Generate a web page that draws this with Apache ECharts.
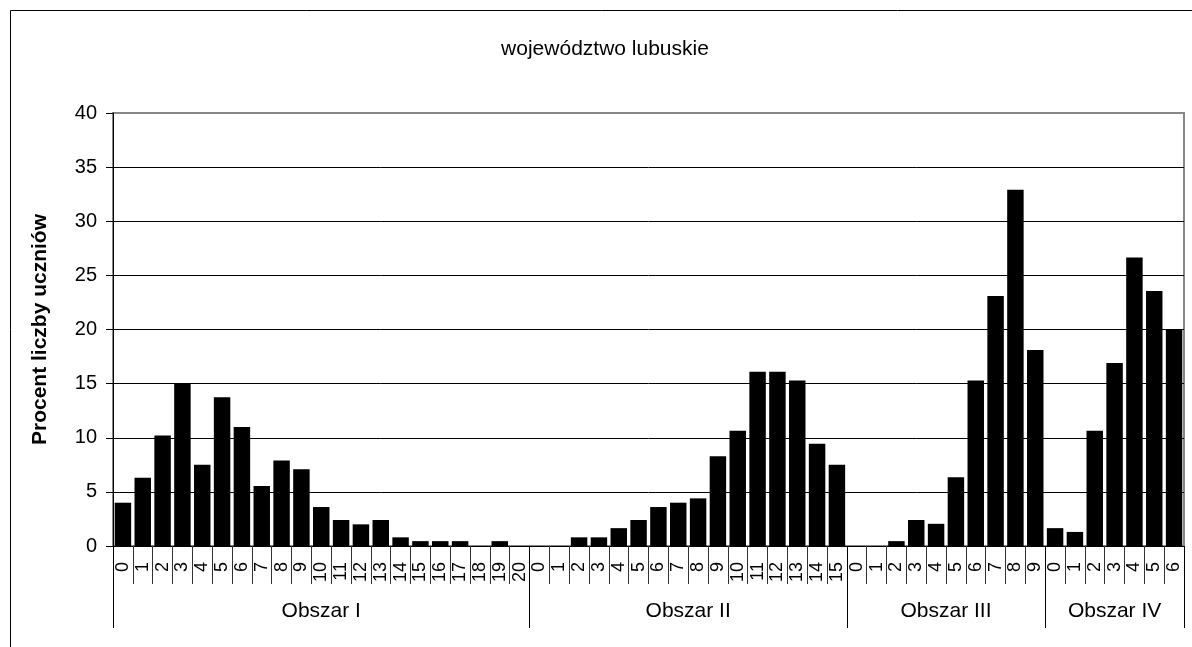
<!DOCTYPE html>
<html>
<head>
<meta charset="utf-8">
<title>województwo lubuskie</title>
<script src="https://cdn.jsdelivr.net/npm/echarts@6/dist/echarts.min.js"></script>
<style>
  html, body { margin: 0; padding: 0; background: #fff; }
  #chart { width: 1192px; height: 647px; }
</style>
</head>
<body>
<div id="chart"></div>
<script>
  // wartości (procent liczby uczniów)
  var groupNames = ['Obszar I', 'Obszar II', 'Obszar III', 'Obszar IV'];
  var obszarI = [4.0, 6.3, 10.2, 15.0, 7.5, 13.75, 11.0, 5.55, 7.9, 7.1, 3.6, 2.4, 2.0, 2.4, 0.8, 0.45, 0.45, 0.45, 0, 0.45, 0];
  var obszarII = [0, 0, 0.8, 0.8, 1.65, 2.4, 3.6, 4.0, 4.4, 8.3, 10.65, 16.1, 16.1, 15.3, 9.45, 7.5];
  var obszarIII = [0, 0, 0.45, 2.4, 2.05, 6.35, 15.3, 23.1, 32.9, 18.1];
  var obszarIV = [1.65, 1.3, 10.65, 16.9, 26.65, 23.55, 20.05];
  var yTicks = [0, 5, 10, 15, 20, 25, 30, 35, 40];

  var groups = [obszarI, obszarII, obszarIII, obszarIV];
  var categories = [];
  var values = [];
  var boundaries = [0];
  var groupCenters = [];
  groups.forEach(function (g) {
    var start = boundaries[boundaries.length - 1];
    g.forEach(function (v, i) {
      categories.push(String(i));
      values.push(v);
    });
    boundaries.push(start + g.length);
    groupCenters.push(start + g.length / 2);
  });

  var font = 'Liberation Sans, Arial, sans-serif';
  var chart = echarts.init(document.getElementById('chart'));
  chart.setOption({
    animation: false,
    title: {
      text: 'województwo lubuskie',
      left: 600,
      top: 34,
      textAlign: 'center',
      textStyle: { fontFamily: font, fontSize: 21, fontWeight: 'normal', color: '#000' }
    },
    graphic: [{
      type: 'rect',
      shape: { x: 10.5, y: 10.5, width: 1400, height: 1000 },
      style: { fill: null, stroke: '#000', lineWidth: 1 },
      silent: true
    }],
    grid: {
      left: 113,
      right: 8,
      top: 113,
      bottom: 101,
      show: true,
      borderColor: '#888',
      borderWidth: 2
    },
    xAxis: [{
      type: 'category',
      data: categories,
      position: 'bottom',
      axisLine: { show: true, lineStyle: { color: '#000', width: 1 } },
      axisTick: { show: true, length: 38, lineStyle: { color: '#333', width: 1 } },
      axisLabel: {
        interval: 0,
        rotate: 90,
        margin: 16,
        fontFamily: font,
        fontSize: 18,
        color: '#000'
      },
      splitLine: { show: false }
    }, {
      type: 'value',
      position: 'bottom',
      min: 0,
      max: categories.length,
      axisLine: { show: false },
      axisTick: {
        show: true,
        length: 82,
        customValues: boundaries,
        lineStyle: { color: '#000', width: 1 }
      },
      axisLabel: {
        customValues: groupCenters,
        margin: 55,
        fontFamily: font,
        fontSize: 21,
        color: '#000',
        formatter: function (v) {
          return groupNames[groupCenters.indexOf(v)] || '';
        }
      },
      splitLine: { show: false }
    }],
    yAxis: {
      type: 'value',
      min: yTicks[0],
      max: yTicks[yTicks.length - 1],
      interval: 5,
      name: 'Procent liczby uczniów',
      nameLocation: 'middle',
      nameRotate: 90,
      nameGap: 62,
      nameTextStyle: { fontFamily: font, fontSize: 21, fontWeight: 'bold', color: '#000' },
      axisLine: { show: true, lineStyle: { color: '#000', width: 1 } },
      axisTick: { show: true, length: 7, lineStyle: { color: '#000' } },
      axisLabel: { margin: 16, fontFamily: font, fontSize: 20, color: '#000' },
      splitLine: { show: true, showMaxLine: false, lineStyle: { color: '#000', width: 1 } }
    },
    series: [{
      type: 'bar',
      data: values,
      barCategoryGap: '17%',
      itemStyle: { color: '#000' }
    }]
  });
</script>
</body>
</html>
